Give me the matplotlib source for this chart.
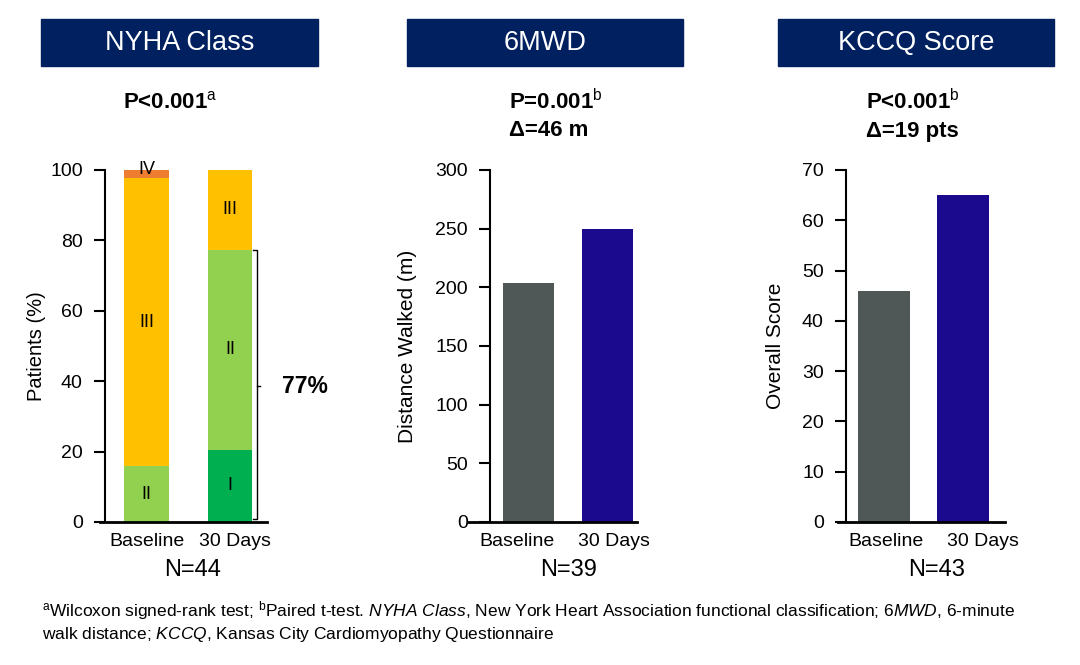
import matplotlib.pyplot as plt
from matplotlib.patches import Rectangle

plt.rcParams['font.family'] = ['Liberation Sans', 'DejaVu Sans']
plt.rcParams['mathtext.fontset'] = 'custom'
plt.rcParams['mathtext.rm'] = 'Liberation Sans'
plt.rcParams['mathtext.it'] = 'Liberation Sans:italic'
plt.rcParams['mathtext.bf'] = 'Liberation Sans:bold'

# data
timepoints = ['Baseline', '30 Days']
nyha_I = [0.0, 20.5]
nyha_II = [15.9, 56.8]
nyha_III = [81.8, 22.7]
nyha_IV = [2.3, 0.0]
walk_m = [204, 250]
kccq_score = [46, 65]

panel_titles = ['NYHA Class', '6MWD', 'KCCQ Score']
n_labels = ['N=44', 'N=39', 'N=43']

navy = '#002060'
nyha_colors = {'I': '#00B050', 'II': '#92D050', 'III': '#FFC000', 'IV': '#ED7D31'}
base_col = '#4F5757'
day30_col = '#1C0A8E'

W, H = 1080, 665
fig = plt.figure(figsize=(10.8, 6.65), dpi=100)


def px_axes(left, right, top=170, bottom=522):
    return fig.add_axes([left / W, 1 - bottom / H, (right - left) / W, (bottom - top) / H])


def style(ax, xlim, spine_left, tick_pos):
    ax.set_xlim(*xlim)
    for s in ['top', 'right']:
        ax.spines[s].set_visible(False)
    ax.spines['left'].set_linewidth(1.5)
    ax.spines['bottom'].set_linewidth(2)
    ax.spines['bottom'].set_bounds(spine_left, xlim[1])
    ax.tick_params(axis='y', length=8, width=1.5, pad=8, labelsize=14)
    ax.tick_params(axis='x', length=0, pad=8, labelsize=14)
    # category labels sit slightly off the bar centres in the original slide
    ax.set_xticks(tick_pos)
    ax.set_xticklabels(timepoints)


# header boxes
boxes = [(41, 318), (407, 683), (778, 1054)]
for (x0, x1), title in zip(boxes, panel_titles):
    fig.patches.append(Rectangle((x0 / W, 1 - 66 / H), (x1 - x0) / W, 47 / H,
                                 transform=fig.transFigure, color=navy))
    fig.text((x0 + x1) / 2 / W, 1 - 43 / H, title, color='white', fontsize=19.5,
             ha='center', va='center')

# NYHA stacked bars
ax1 = px_axes(105, 267)
x = [0, 1]
bw = 0.53
bottoms = [0, 0]
for cls, vals in zip(['I', 'II', 'III', 'IV'], [nyha_I, nyha_II, nyha_III, nyha_IV]):
    ax1.bar(x, vals, bw, bottom=bottoms, color=nyha_colors[cls], edgecolor='none')
    for i in range(2):
        if vals[i] > 0:
            yc = bottoms[i] + vals[i] / 2
            if cls == 'IV':
                yc = bottoms[i] + vals[i] + 0.2
            ax1.text(x[i], yc, cls, ha='center', va='center', fontsize=13)
    bottoms = [b + v for b, v in zip(bottoms, vals)]
ax1.set_ylim(0, 100)
ax1.set_yticks(range(0, 101, 20))
style(ax1, (-0.497, 1.443), -0.56, [0, 1.06])
ax1.set_ylabel('Patients (%)', fontsize=14.5)
ax1.yaxis.set_label_coords(-0.362, 0.5)

# bracket for 30 days class I+II
top = nyha_I[1] + nyha_II[1]
bx = 1.323
ax1.plot([bx - 0.05, bx, bx, bx - 0.05], [top, top, 0.8, 0.8], color='black', lw=1, clip_on=False)
ax1.plot([bx, bx + 0.04], [top / 2, top / 2], color='black', lw=1, clip_on=False)
ax1.text(1.9, 38.4, f'{round(top)}%', fontsize=16.5, fontweight='bold', ha='center', va='center')

# 6MWD
ax2 = px_axes(490, 637)
ax2.bar(x, walk_m, 0.65, color=[base_col, day30_col])
ax2.set_ylim(0, 300)
ax2.set_yticks(range(0, 301, 50))
style(ax2, (-0.49, 1.38), -0.77, [-0.146, 1.09])
ax2.set_ylabel('Distance Walked (m)', fontsize=15)
ax2.yaxis.set_label_coords(-0.496, 0.5)

# KCCQ
ax3 = px_axes(846, 1005)
ax3.bar(x, kccq_score, 0.66, color=[base_col, day30_col])
ax3.set_ylim(0, 70)
ax3.set_yticks(range(0, 71, 10))
style(ax3, (-0.484, 1.54), -0.586, [0.026, 1.261])
ax3.set_ylabel('Overall Score', fontsize=15)
ax3.yaxis.set_label_coords(-0.385, 0.5)

# p-values and deltas
pfs = 16
fig.text(170 / W, 1 - 102 / H, r'P<0.001$^{\mathrm{a}}$', fontsize=pfs, fontweight='bold',
         ha='center', va='center')
fig.text(509 / W, 1 - 102 / H, r'P=0.001$^{\mathrm{b}}$', fontsize=pfs, fontweight='bold',
         ha='left', va='center')
fig.text(509 / W, 1 - 131 / H, r'Δ=46 m', fontsize=pfs, fontweight='bold', ha='left', va='center')
fig.text(866 / W, 1 - 102 / H, r'P<0.001$^{\mathrm{b}}$', fontsize=pfs, fontweight='bold',
         ha='left', va='center')
fig.text(866 / W, 1 - 131 / H, r'Δ=19 pts', fontsize=pfs, fontweight='bold', ha='left', va='center')

# N labels
for xc, lab in zip([193, 569, 937], n_labels):
    fig.text(xc / W, 1 - 570 / H, lab, fontsize=17, ha='center', va='center')

# footnote
fig.text(42 / W, 1 - 611 / H,
         r'$^{\mathrm{a}}$Wilcoxon signed-rank test; $^{\mathrm{b}}$Paired t-test. '
         r'$\mathit{NYHA\ Class}$, New York Heart Association functional classification; '
         r'$\mathit{6MWD}$, 6-minute', fontsize=12.5, ha='left', va='center')
fig.text(42 / W, 1 - 635 / H,
         r'walk distance; $\mathit{KCCQ}$, Kansas City Cardiomyopathy Questionnaire',
         fontsize=12.5, ha='left', va='center')

fig.savefig('out.png', dpi=100)
